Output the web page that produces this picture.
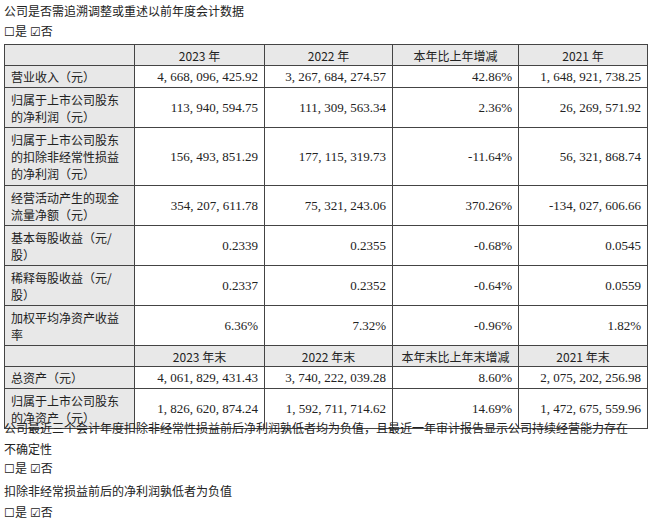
<!DOCTYPE html>
<html lang="zh">
<head>
<meta charset="UTF-8">
<script src="https://cdn.jsdelivr.net/npm/chart.js"></script>
<style>
  body { margin: 0; width: 658px; height: 522px; background: #fff; font-family: "Noto Sans CJK SC", sans-serif; font-size: 12px; color: #222; overflow: hidden; }
  .line { position: absolute; left: 4px; line-height: 18px; }
  table { position: absolute; left: 4px; top: 44px; border-collapse: collapse; table-layout: fixed; }
  td { border: 1px solid #444; padding: 0 6px; line-height: 17px; overflow: hidden; }
  td.n { text-align: right; font-family: "Liberation Serif", "DejaVu Serif", serif; font-size: 13px; }
  td.h { text-align: center; background: #e8e8e8; }
  td.l { background: #e8e8e8; }
</style>
</head>
<body>
<div class="line" style="top:2px">公司是否需追溯调整或重述以前年度会计数据</div>
<div class="line" style="top:22px">☐是 ☑否</div>
<table id="t"></table>
<div class="line" style="top:417px;width:635px;line-height:21px">公司最近三个会计年度扣除非经常性损益前后净利润孰低者均为负值，且最近一年审计报告显示公司持续经营能力存在不确定性</div>
<div class="line" style="top:459px">☐是 ☑否</div>
<div class="line" style="top:482px">扣除非经常损益前后的净利润孰低者为负值</div>
<div class="line" style="top:503px">☐是 ☑否</div>
<script>
const header1 = ['', '2023 年', '2022 年', '本年比上年增减', '2021 年'];
const labels1 = ['营业收入（元）', '归属于上市公司股东的净利润（元）', '归属于上市公司股东的扣除非经常性损益的净利润（元）', '经营活动产生的现金流量净额（元）', '基本每股收益（元/股）', '稀释每股收益（元/股）', '加权平均净资产收益率'];
const values2023 = ['4,668,096,425.92', '113,940,594.75', '156,493,851.29', '354,207,611.78', '0.2339', '0.2337', '6.36%'];
const values2022 = ['3,267,684,274.57', '111,309,563.34', '177,115,319.73', '75,321,243.06', '0.2355', '0.2352', '7.32%'];
const change1 = ['42.86%', '2.36%', '-11.64%', '370.26%', '-0.68%', '-0.64%', '-0.96%'];
const values2021 = ['1,648,921,738.25', '26,269,571.92', '56,321,868.74', '-134,027,606.66', '0.0545', '0.0559', '1.82%'];
const header2 = ['', '2023 年末', '2022 年末', '本年末比上年末增减', '2021 年末'];
const labels2 = ['总资产（元）', '归属于上市公司股东的净资产（元）'];
const end2023 = ['4,061,829,431.43', '1,826,620,874.24'];
const end2022 = ['3,740,222,039.28', '1,592,711,714.62'];
const change2 = ['8.60%', '14.69%'];
const end2021 = ['2,075,202,256.98', '1,472,675,559.96'];
const rowH1 = [22, 40, 58, 40, 40, 40, 40];
const rowH2 = [22, 40];
const widths = [130, 130, 128, 126, 129];

const t = document.getElementById('t');
const cg = document.createElement('colgroup');
widths.forEach(w => { const c = document.createElement('col'); c.style.width = w + 'px'; cg.appendChild(c); });
t.appendChild(cg);
function head(arr) {
  const tr = t.insertRow();
  arr.forEach(s => { const td = tr.insertCell(); td.className = 'h'; td.style.height = '20px'; td.textContent = s; });
}
function body(labels, a, b, c, d, hs) {
  labels.forEach((lab, i) => {
    const tr = t.insertRow();
    const l = tr.insertCell(); l.className = 'l'; l.textContent = lab;
    l.style.height = (hs[i] - 1) + 'px';
    [a[i], b[i], c[i], d[i]].forEach(v => { const td = tr.insertCell(); td.className = 'n'; td.textContent = v.replace(/,/g, ', '); });
  });
}
head(header1);
body(labels1, values2023, values2022, change1, values2021, rowH1);
head(header2);
body(labels2, end2023, end2022, change2, end2021, rowH2);
</script>
</body>
</html>
